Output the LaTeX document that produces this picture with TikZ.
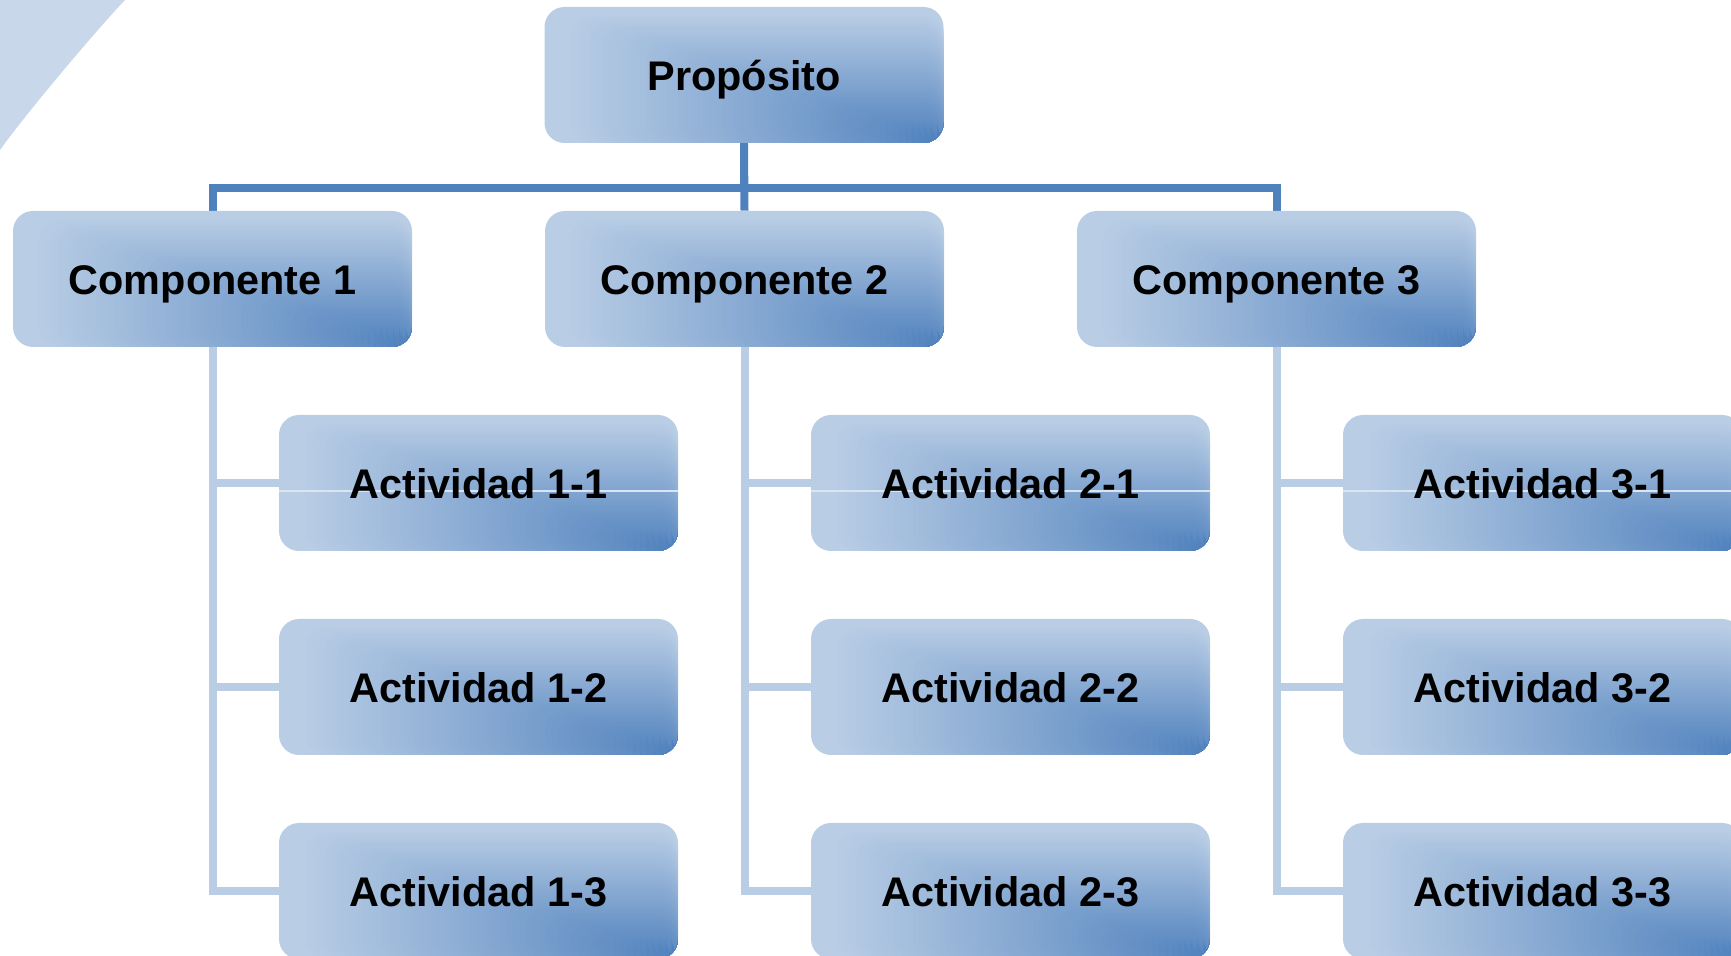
\documentclass[tikz,border=0pt]{standalone}
\usepackage{fontspec}
\setmainfont{Liberation Sans}
\usetikzlibrary{calc,backgrounds}
\definecolor{lt}{RGB}{185,205,229}
\definecolor{dk}{RGB}{79,129,189}
\definecolor{bgarc}{RGB}{200,216,234}
\definecolor{conlt}{RGB}{185,205,229}
\definecolor{glint}{RGB}{218,229,242}
\newcommand\boxfill{%
  \foreach \i in {0,...,59}{%
    \pgfmathsetmacro\cc{0.95*(1-\i/60)}%
    \pgfmathsetmacro\pp{100*(1-\i/60)}%
    \fill[lt!\pp!dk] (path picture bounding box.south east) rectangle ++(-\cc*199.5pt, \cc*68pt);
  }}
\begin{document}
\begin{tikzpicture}[x=0.5pt,y=-0.5pt,
  box/.style={rectangle, rounded corners=10pt, minimum width=199.5pt, minimum height=68pt,
    inner sep=0pt, text height=15.5pt, text depth=0pt,
    font=\fontsize{20.7pt}{24pt}\selectfont\bfseries, text=black, fill=lt,
    path picture={\boxfill}},
  gbox/.style={box, path picture={\boxfill
    \draw[glint, line width=0.7pt] ($(path picture bounding box.west)+(0,-4pt)$) -- ($(path picture bounding box.east)+(0,-4pt)$);}},
  conna/.style={draw=dk, line width=4pt},
  connb/.style={draw=conlt, line width=4pt}]
\useasboundingbox (0,0) rectangle (1731,956);
\clip (0,0) rectangle (1731,956);

\node[box] (P) at (744,75) {Propósito};
\node[box] (C1) at (212.5,279) {Componente 1};
\node[box] (C2) at (744.5,279) {Componente 2};
\node[box] (C3) at (1276.5,279) {Componente 3};

\node[gbox] (A11) at (478.5,483) {Actividad 1-1};
\node[box] (A12) at (478.5,687) {Actividad 1-2};
\node[box] (A13) at (478.5,891) {Actividad 1-3};
\node[gbox] (A21) at (1010.5,483) {Actividad 2-1};
\node[box] (A22) at (1010.5,687) {Actividad 2-2};
\node[box] (A23) at (1010.5,891) {Actividad 2-3};
\node[gbox] (A31) at (1542.5,483) {Actividad 3-1};
\node[box] (A32) at (1542.5,687) {Actividad 3-2};
\node[box] (A33) at (1542.5,891) {Actividad 3-3};

\begin{scope}[on background layer]
  \fill[bgarc] (0,0) -- (125,0) .. controls (92,35) and (25,115) .. (0,150) -- cycle;
  \draw[conna] (P.south) -- ++(0,45) -| (C1.north);
  \draw[conna] (P.south) -- ++(0,45) -| (C3.north);
  \draw[conna] (P.south) -- (C2.north);
  \foreach \c in {1,2,3}{
    \foreach \a in {1,2,3}{
      \draw[connb] (C\c.south) |- (A\c\a.west);
    }
  }
\end{scope}
\end{tikzpicture}
\end{document}
